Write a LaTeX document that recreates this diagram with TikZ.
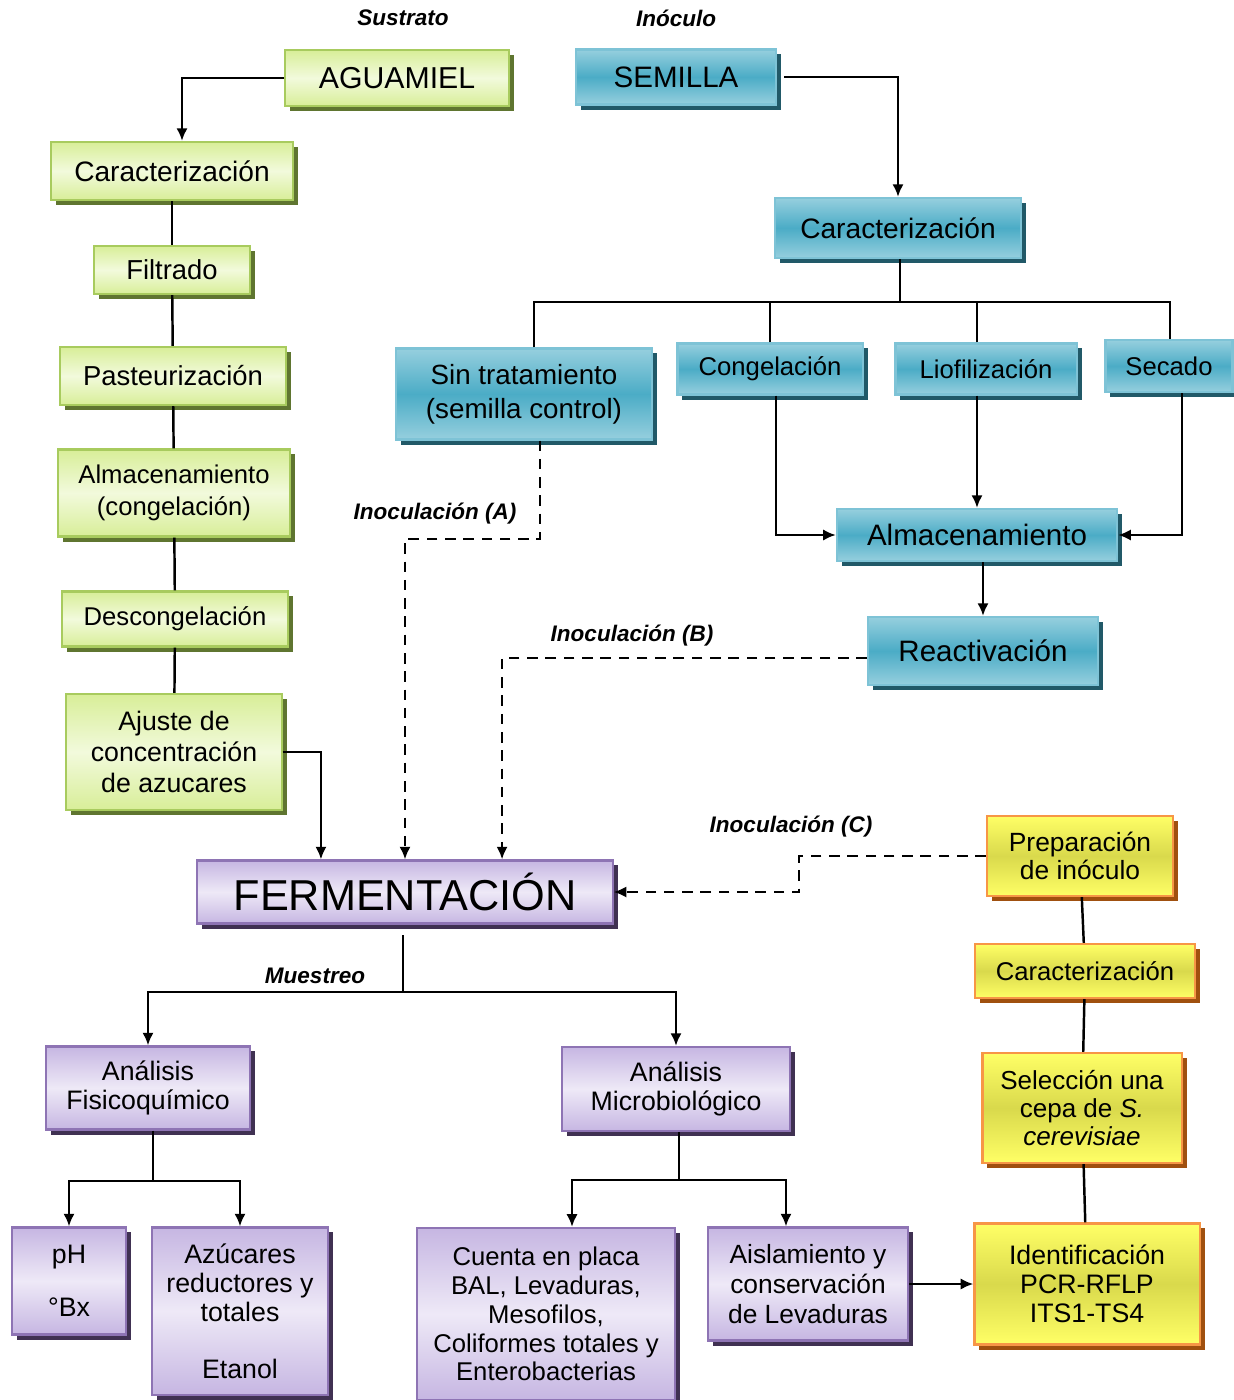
\documentclass[tikz,border=0pt]{standalone}
\usepackage{fontspec}
\setmainfont{Liberation Sans}
\usepackage{tikz}
\usetikzlibrary{shadows,arrows.meta}
\definecolor{subsTop}{HTML}{D8EE98}
\definecolor{subsMid}{HTML}{F2FADC}
\definecolor{subsLine}{HTML}{A8CB5E}
\definecolor{subsShadow}{HTML}{5F7530}
\definecolor{seedTop}{HTML}{96CFDE}
\definecolor{seedMid}{HTML}{4BACC6}
\definecolor{seedLine}{HTML}{7EC3D6}
\definecolor{seedShadow}{HTML}{215968}
\definecolor{fermTop}{HTML}{C6B6E2}
\definecolor{fermMid}{HTML}{EEE9F7}
\definecolor{fermLine}{HTML}{8E74B4}
\definecolor{fermShadow}{HTML}{403152}
\definecolor{yeastTop}{HTML}{FFFF66}
\definecolor{yeastMid}{HTML}{D9D94C}
\definecolor{yeastLine}{HTML}{F79646}
\definecolor{yeastShadow}{HTML}{A0500F}

\begin{document}
\begin{tikzpicture}[x=0.01cm,y=-0.01cm]
\tikzstyle{box}=[rectangle, inner sep=1pt, align=center, line width=0.6pt, font=\fontsize{7.6}{8.2}\selectfont]
\tikzstyle{subs}=[box, draw=subsLine, top color=subsTop, bottom color=subsTop, middle color=subsMid, drop shadow={shadow xshift=0.05cm, shadow yshift=-0.05cm, fill=subsShadow, opacity=1}]
\tikzstyle{seed}=[box, draw=seedLine, top color=seedTop, bottom color=seedTop, middle color=seedMid, drop shadow={shadow xshift=0.05cm, shadow yshift=-0.05cm, fill=seedShadow, opacity=1}]
\tikzstyle{ferm}=[box, draw=fermLine, top color=fermTop, bottom color=fermTop, middle color=fermMid, drop shadow={shadow xshift=0.05cm, shadow yshift=-0.05cm, fill=fermShadow, opacity=1}]
\tikzstyle{yeast}=[box, draw=yeastLine, top color=yeastTop, bottom color=yeastTop, middle color=yeastMid, drop shadow={shadow xshift=0.05cm, shadow yshift=-0.05cm, fill=yeastShadow, opacity=1}]
\tikzstyle{tag}=[inner sep=1pt, font=\fontsize{6.4}{7}\selectfont\bfseries\itshape]
\tikzstyle{line}=[line width=0.7pt]
\tikzstyle{connect}=[-{Latex[length=3.6pt,width=3.2pt]}, line width=0.7pt]
\tikzstyle{dconnect}=[connect, dash pattern=on 3pt off 2.2pt]
\useasboundingbox (0,0) rectangle (1233,1400);
	% sustrato
	\node[tag] (tSust) at (403,18) {Sustrato};
	\node[subs, minimum width=2.23cm, minimum height=0.56cm, font=\fontsize{8.6}{10}\selectfont] (aguamiel) at (397,78) {AGUAMIEL};
	\node[subs, minimum width=2.42cm, minimum height=0.58cm, font=\fontsize{8}{9}\selectfont] (carS) at (172,171) {Caracterización};
	\node[subs, minimum width=1.56cm, minimum height=0.48cm, font=\fontsize{7.8}{9}\selectfont] (filt) at (172,270) {Filtrado};
	\node[subs, minimum width=2.26cm, minimum height=0.58cm, font=\fontsize{7.8}{9}\selectfont] (past) at (173,376) {Pasteurización};
	\node[subs, minimum width=2.31cm, minimum height=0.87cm, font=\fontsize{7.3}{9}\selectfont] (almS) at (174,493) {Almacenamiento\\(congelación)};
	\node[subs, minimum width=2.26cm, minimum height=0.55cm, font=\fontsize{7.3}{9}\selectfont] (desc) at (175,619) {Descongelación};
	\node[subs, minimum width=2.15cm, minimum height=1.16cm, font=\fontsize{7.6}{8.9}\selectfont] (ajus) at (174,752) {Ajuste de\\concentración\\de azucares};

	% inoculo
	\node[tag] (tInoc) at (676,18) {Inóculo};
	\node[seed, minimum width=2.00cm, minimum height=0.55cm, font=\fontsize{8.4}{10}\selectfont] (semilla) at (676,77) {SEMILLA};
	\node[seed, minimum width=2.45cm, minimum height=0.60cm, font=\fontsize{8}{9}\selectfont] (carI) at (898,228) {Caracterización};
	\node[seed, minimum width=2.56cm, minimum height=0.91cm, font=\fontsize{7.9}{9.6}\selectfont] (sint) at (524,394) {Sin tratamiento\\(semilla control)};
	\node[seed, minimum width=1.85cm, minimum height=0.51cm, font=\fontsize{7.3}{9}\selectfont] (cong) at (770,369) {Congelación};
	\node[seed, minimum width=1.81cm, minimum height=0.51cm, font=\fontsize{7.3}{9}\selectfont] (liof) at (986,369) {Liofilización};
	\node[seed, minimum width=1.27cm, minimum height=0.52cm, font=\fontsize{7.3}{9}\selectfont] (seca) at (1169,366) {Secado};
	\node[seed, minimum width=2.80cm, minimum height=0.52cm, font=\fontsize{8.4}{10}\selectfont] (almI) at (977,535) {Almacenamiento};
	\node[seed, minimum width=2.30cm, minimum height=0.68cm, font=\fontsize{8.4}{10}\selectfont] (reac) at (983,651) {Reactivación};

	% fermentacion
	\node[ferm, minimum width=4.15cm, minimum height=0.63cm, font=\fontsize{12.3}{14}\selectfont] (ferm) at (405,892) {FERMENTACIÓN};
	\node[ferm, minimum width=2.04cm, minimum height=0.83cm] (anaF) at (148,1088) {Análisis\\Fisicoquímico};
	\node[ferm, minimum width=2.27cm, minimum height=0.84cm] (anaM) at (676,1089) {Análisis\\Microbiológico};
	\node[ferm, minimum width=1.14cm, minimum height=1.07cm] (ph) at (69,1281) {pH\\[7pt]°Bx};
	\node[ferm, minimum width=1.76cm, minimum height=1.67cm] (azuc) at (240,1311) {Azúcares\\reductores y\\totales\\[8pt]Etanol};
	\node[ferm, minimum width=2.57cm, minimum height=1.72cm, font=\fontsize{7.3}{8.2}\selectfont] (cuen) at (546,1314) {Cuenta en placa\\BAL, Levaduras,\\Mesofilos,\\Coliformes totales y\\Enterobacterias};
	\node[ferm, minimum width=2.00cm, minimum height=1.13cm, font=\fontsize{7.5}{8.6}\selectfont] (aisl) at (808,1284) {Aislamiento y\\conservación\\de Levaduras};

	% levadura
	\node[yeast, minimum width=1.86cm, minimum height=0.80cm, font=\fontsize{7.5}{8}\selectfont] (prep) at (1080,856) {Preparación\\de inóculo};
	\node[yeast, minimum width=2.20cm, minimum height=0.54cm, font=\fontsize{7.3}{8}\selectfont] (carY) at (1085,971) {Caracterización};
	\node[yeast, minimum width=1.99cm, minimum height=1.10cm, font=\fontsize{7.4}{8}\selectfont] (sele) at (1082,1108) {Selección una\\cepa de \textit{S.}\\\textit{cerevisiae}};
	\node[yeast, minimum width=2.25cm, minimum height=1.21cm] (iden) at (1087,1284) {Identificación\\PCR-RFLP\\ITS1-TS4};

	\node[tag] (tA) at (435,514) {Inoculación (A)};
	\node[tag] (tB) at (632,636) {Inoculación (B)};
	\node[tag] (tC) at (791,827) {Inoculación (C)};
	\node[tag] (tMues) at (315,976) {Muestreo};

	\coordinate (busI) at (900,302);
	\coordinate (bendA) at (405,539);
	\coordinate (bendC) at (799,856);
	\coordinate (busF) at (403,992);
	\coordinate (busA) at (153,1181);
	\coordinate (busM) at (679,1180);

	\path
		(carS) edge [line] (filt)
		(filt) edge [line] (past)
		(past) edge [line] (almS)
		(almS) edge [line] (desc)
		(desc) edge [line] (ajus)
		(prep) edge [line] (carY)
		(carY) edge [line] (sele)
		(sele) edge [line] (iden)
		(aisl) edge [connect] (iden);

	\draw[connect] (aguamiel) -| ([xshift=0.1cm]carS.north);
	\draw[connect] (ajus) -| ([xshift=-0.84cm]ferm.north);
	\draw[connect, shorten <=2pt] (semilla) -| (carI);
	\draw[line] (carI.south -| busI) -- (busI);
	\draw[line] ([xshift=0.1cm]sint.north) |- (busI) -| ([xshift=0.01cm]seca.north);
	\draw[line] (cong.north) |- (busI);
	\draw[line] ([xshift=-0.09cm]liof.north) |- (busI);
	\draw[connect] ([xshift=0.06cm]cong.south) |- (almI);
	\draw[connect] (almI.north |- liof.south) -- (almI.north);
	\draw[connect] ([xshift=0.13cm]seca.south) |- (almI);
	\draw[connect] (reac.north |- almI.south) -- (reac.north);

	\draw[dconnect] ([xshift=0.16cm]sint.south) |- (bendA) -- (ferm.north);
	\draw[dconnect] ([yshift=-0.07cm]reac.west) -| ([xshift=0.97cm]ferm.north);
	\draw[dconnect] (prep) -- (bendC) |- (ferm);

	\draw[line, shorten <=3pt] (ferm.south -| busF) -- (busF);
	\draw[connect] (busF) -| (anaF);
	\draw[connect] (busF) -| (anaM);
	\draw[line] (anaF.south -| busA) -- (busA);
	\draw[connect] (busA) -| (ph);
	\draw[connect] (busA) -| (azuc);
	\draw[line] (anaM.south -| busM) -- (busM);
	\draw[connect] (busM) -| ([xshift=0.26cm]cuen.north);
	\draw[connect] (busM) -| ([xshift=-0.22cm]aisl.north);
\end{tikzpicture}
\end{document}
